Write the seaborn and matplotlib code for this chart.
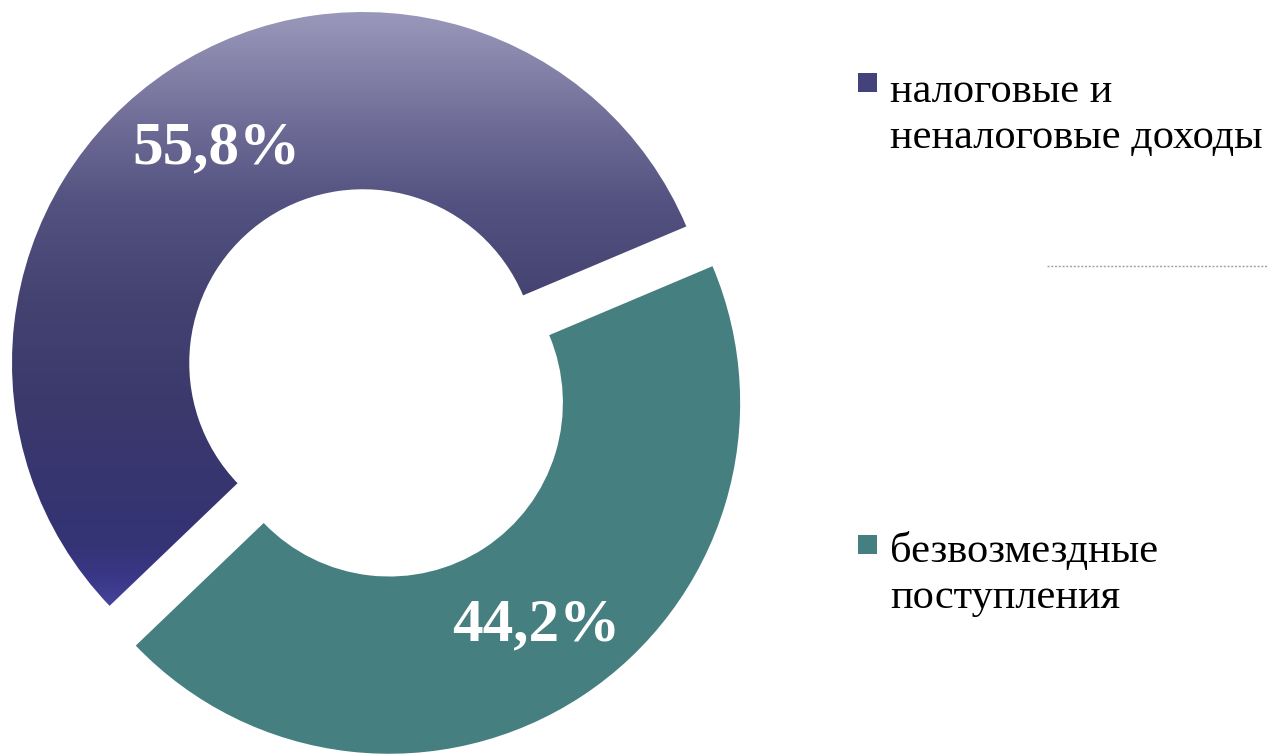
import matplotlib
matplotlib.use("Agg")
import matplotlib.pyplot as plt
import numpy as np
import seaborn as sns
from matplotlib.patches import Rectangle

# data
categories = ["налоговые и\nненалоговые доходы", "безвозмездные\nпоступления"]
shares = [55.8, 44.2]
share_labels = ["55,8%", "44,2%"]

sns.set_style("white")
plt.rcParams["font.family"] = ["Liberation Serif", "DejaVu Serif"]

W, H = 1270, 755
fig = plt.figure(figsize=(W / 100, H / 100), dpi=100)
ax = fig.add_axes([0, 0, 1, 1])

R = 351
cx, cy = 363, H - 363
teal = "#457f80"

wedges, _ = ax.pie(
    shares,
    radius=R,
    center=(cx, cy),
    startangle=22.9,
    counterclock=True,
    explode=[0, 47.6],
    colors=["none", teal],
    wedgeprops=dict(width=R * 0.505, linewidth=0),
    frame=True,
)

# vertical gradient for the first ring segment (image rows, top -> bottom)
stop_rows = [12, 120, 200, 300, 420, 540, 580, 612]
stop_rgb = np.array([
    (154, 152, 186),
    (112, 110, 152),
    (84, 82, 128),
    (68, 66, 112),
    (58, 56, 108),
    (52, 51, 116),
    (58, 56, 136),
    (74, 72, 162),
]) / 255
rows = np.arange(H)
grad = np.stack([np.interp(rows, stop_rows, stop_rgb[:, k]) for k in range(3)], axis=1)
grad = grad[:, None, :]
im = ax.imshow(grad, extent=[0, W, 0, H], origin="upper", aspect="auto", zorder=1)
im.set_clip_path(wedges[0])

ax.set_xlim(0, W)
ax.set_ylim(0, H)
ax.set_aspect("equal")
ax.axis("off")

# percentage labels
label_pos = [(216, 148), (536, 625)]
for (x, y), txt in zip(label_pos, share_labels):
    ax.text(x, H - y, txt, ha="center", va="center", fontsize=44,
            fontweight="bold", color="white", zorder=3)

# legend drawn by hand to keep the wide spacing
marker_colors = ["#44427a", teal]
marker_rows = [92, 554]
text_rows = [148, 608]  # baseline of the last line
for name, col, yb, yt in zip(categories, marker_colors, marker_rows, text_rows):
    ax.add_patch(Rectangle((858, H - yb), 19, 19, facecolor=col, edgecolor="none", zorder=3))
    ax.text(890, H - yt, name, ha="left", va="baseline", fontsize=30.5,
            color="black", linespacing=1.24, zorder=3)

ax.plot([1047, 1268], [H - 266, H - 266], color="#a0a0a0", lw=1,
        ls=(0, (1.5, 1.2)), zorder=2)

fig.savefig("out.png", dpi=100)
